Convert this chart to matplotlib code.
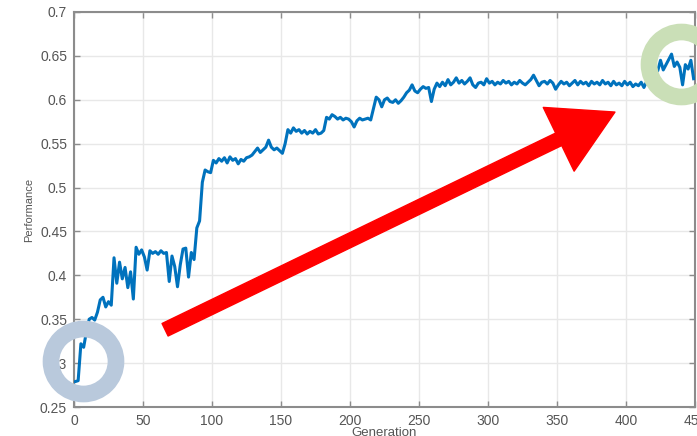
import numpy as np
import matplotlib
matplotlib.use("Agg")
import matplotlib.pyplot as plt

plt.rcParams['font.family'] = ['Liberation Sans', 'DejaVu Sans']

# Best performance per generation (sampled every second generation)
generations = np.arange(1, 451, 2)
performance = [
    0.279, 0.280, 0.322, 0.318, 0.336, 0.350, 0.352, 0.349, 0.358, 0.372,
    0.375, 0.364, 0.370, 0.366, 0.420, 0.391, 0.415, 0.396, 0.409, 0.386,
    0.404, 0.373, 0.432, 0.424, 0.429, 0.421, 0.406, 0.428, 0.425, 0.427,
    0.424, 0.428, 0.425, 0.426, 0.393, 0.422, 0.410, 0.387, 0.412, 0.430,
    0.431, 0.398, 0.426, 0.418, 0.454, 0.462, 0.506, 0.520, 0.518, 0.517,
    0.531, 0.528, 0.533, 0.530, 0.534, 0.528, 0.535, 0.531, 0.533, 0.527,
    0.532, 0.530, 0.534, 0.535, 0.537, 0.541, 0.545, 0.540, 0.543, 0.546,
    0.554, 0.546, 0.543, 0.545, 0.542, 0.539, 0.550, 0.566, 0.562, 0.568,
    0.564, 0.566, 0.562, 0.565, 0.561, 0.564, 0.562, 0.566, 0.561, 0.562,
    0.565, 0.580, 0.578, 0.583, 0.581, 0.578, 0.580, 0.577, 0.579, 0.578,
    0.575, 0.569, 0.576, 0.579, 0.577, 0.578, 0.579, 0.577, 0.590, 0.603,
    0.600, 0.592, 0.600, 0.602, 0.598, 0.597, 0.600, 0.596, 0.599, 0.603,
    0.608, 0.611, 0.617, 0.610, 0.608, 0.612, 0.615, 0.613, 0.614, 0.598,
    0.612, 0.619, 0.615, 0.620, 0.616, 0.623, 0.617, 0.620, 0.625, 0.619,
    0.622, 0.618, 0.621, 0.625, 0.617, 0.614, 0.619, 0.620, 0.617, 0.624,
    0.619, 0.621, 0.617, 0.620, 0.618, 0.622, 0.619, 0.621, 0.617, 0.620,
    0.618, 0.622, 0.619, 0.617, 0.620, 0.623, 0.628, 0.622, 0.616, 0.620,
    0.621, 0.618, 0.622, 0.619, 0.612, 0.617, 0.621, 0.618, 0.620, 0.616,
    0.619, 0.622, 0.617, 0.621, 0.618, 0.620, 0.616, 0.621, 0.618, 0.620,
    0.617, 0.622, 0.618, 0.620, 0.616, 0.621, 0.617, 0.619, 0.616, 0.621,
    0.617, 0.620, 0.615, 0.618, 0.616, 0.620, 0.614, 0.621, 0.630, 0.648,
    0.638, 0.633, 0.645, 0.634, 0.640, 0.646, 0.652, 0.638, 0.643, 0.637,
    0.617, 0.640, 0.635, 0.645, 0.624,
]

x_ticks = [0, 50, 100, 150, 200, 250, 300, 350, 400, 450]
x_tick_labels = ['0', '50', '100', '150', '200', '250', '300', '350', '400', '450']
y_ticks = [0.25, 0.3, 0.35, 0.4, 0.45, 0.5, 0.55, 0.6, 0.65, 0.7]
y_tick_labels = ['0.25', '0.3', '0.35', '0.4', '0.45', '0.5', '0.55', '0.6', '0.65', '0.7']

# Highlighted start / end points and trend arrow (data coordinates)
start_mark = (6.5, 0.302)
end_mark = (440, 0.641)
arrow_tail = (66, 0.338)
arrow_tip = (392, 0.586)

W, H = 697, 436
fig = plt.figure(figsize=(W / 100, H / 100), dpi=100)
ax = fig.add_axes([74 / W, 1 - 407 / H, (695 - 74) / W, (407 - 12) / H])

ax.plot(generations, performance, color='#0072BD', lw=2.2, zorder=3)

ax.set_xlim(0, 450)
ax.set_ylim(0.25, 0.7)
ax.set_xticks(x_ticks)
ax.set_xticklabels(x_tick_labels)
ax.set_yticks(y_ticks)
ax.set_yticklabels(y_tick_labels)

axis_gray = '#8c8c8c'
for s in ax.spines.values():
    s.set_color(axis_gray)
    s.set_linewidth(1.5)
ax.tick_params(direction='in', length=4, width=1.0, color=axis_gray,
               labelcolor='#555555', labelsize=10,
               top=True, right=True, pad=5)
ax.grid(True, color='#e8e8e8', lw=1.0)
ax.set_axisbelow(True)

ax.set_ylabel('Performance', fontsize=8, color='#555555', labelpad=4)
ax.set_xlabel('Generation', fontsize=9.5, color='#555555', labelpad=-1)

# Rings around the first and last generations
ax.plot(*start_mark, marker='o', ms=46.8, mfc='none', mec='#b9c9dc',
        mew=12, clip_on=False, zorder=6)
ax.plot(*end_mark, marker='o', ms=46.8, mfc='none', mec='#cadfb7',
        mew=12, clip_on=False, zorder=6)

# Upward trend arrow
ax.annotate('', xy=arrow_tip, xytext=arrow_tail,
            arrowprops=dict(arrowstyle='simple,head_width=5.1,head_length=4.5,tail_width=1.0',
                            color='#ff0000', shrinkA=0, shrinkB=0,
                            mutation_scale=10),
            zorder=7)

fig.savefig('out.png', dpi=100)
